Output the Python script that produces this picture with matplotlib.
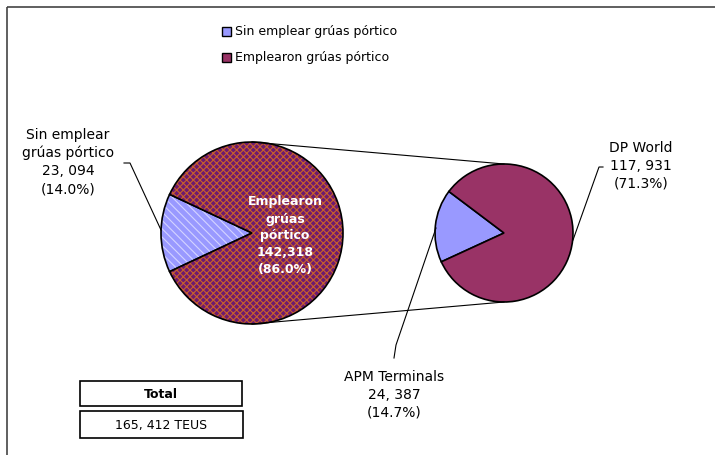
import numpy as np
import matplotlib as mpl
import matplotlib.pyplot as plt
from matplotlib.patches import Rectangle

plt.rcParams['font.family'] = ['DejaVu Sans']
plt.rcParams['hatch.linewidth'] = 0.8

# datos
categorias = ['Sin emplear grúas pórtico', 'Emplearon grúas pórtico']
valores = [23094, 142318]
terminales = ['APM Terminals', 'DP World']
valores_term = [24387, 117931]
total = sum(valores)

fig = plt.figure(figsize=(7.15, 4.55), dpi=100)
ax = fig.add_axes([0, 0, 1, 1])

# marco
ax.add_patch(Rectangle((7, 7), 720, 460, fill=False, ec='#444444', lw=1.2))

# pastel principal (eje y invertido: los ángulos se reflejan)
c1 = (252, 233)
r1 = 91
ang1 = 180 - 360 * valores[0] / total / 2
w1, _ = ax.pie(valores, center=c1, radius=r1, startangle=ang1, counterclock=True,
               colors=['#9999ff', '#6e1a70'], frame=True,
               wedgeprops=dict(edgecolor='black', linewidth=1.2))
w1[0].set_hatch('\\\\\\\\')
w1[1].set_hatch('xxxxx')
w1[0]._hatch_color = mpl.colors.to_rgba('#d4d4ff')
w1[1]._hatch_color = mpl.colors.to_rgba('#c8602a')

# pastel secundario
c2 = (504, 233)
r2 = 69
sub = sum(valores_term)
ang2 = 143
w2, _ = ax.pie(valores_term, center=c2, radius=r2, startangle=360 - ang2 - 360 * valores_term[0] / sub,
               counterclock=True, colors=['#9999ff', '#993366'], frame=True,
               wedgeprops=dict(edgecolor='black', linewidth=1.2))
ax.set_xlim(0, 715)
ax.set_ylim(455, 0)
ax.axis('off')

# líneas de unión
ax.plot([c1[0], c2[0]], [c1[1] - r1, c2[1] - r2], color='black', lw=0.8)
ax.plot([c1[0], c2[0]], [c1[1] + r1, c2[1] + r2], color='black', lw=0.8)

# leyenda
for i, (cat, col) in enumerate(zip(categorias, ['#9999ff', '#993366'])):
    y = 31 + 26 * i
    ax.add_patch(Rectangle((222, y - 4.5), 9, 9, fc=col, ec='black', lw=1))
    ax.text(235, y, cat, fontsize=9, va='center', ha='left')

# etiquetas
fs = 10
ax.text(68, 162, 'Sin emplear\ngrúas pórtico\n%s\n(%.1f%%)' % (f'{valores[0]:,}'.replace(',', ', '), 100 * valores[0] / total),
        ha='center', va='center', fontsize=fs, linespacing=1.35)
ax.plot([124, 130, 161], [163, 163, 230], color='black', lw=0.8)

ax.text(285, 236, 'Emplearon\ngrúas\npórtico\n%s\n(%.1f%%)' % (f'{valores[1]:,}', 100 * valores[1] / total),
        ha='center', va='center', fontsize=9, fontweight='bold', color='white', linespacing=1.4)

ax.text(641, 166, 'DP World\n%s\n(%.1f%%)' % (f'{valores_term[1]:,}'.replace(',', ', '), 100 * valores_term[1] / total),
        ha='center', va='center', fontsize=fs, linespacing=1.35)
ax.plot([603, 599, 573], [167, 167, 240], color='black', lw=0.8)

ax.text(394, 395, 'APM Terminals\n%s\n(%.1f%%)' % (f'{valores_term[0]:,}'.replace(',', ', '), 100 * valores_term[0] / total),
        ha='center', va='center', fontsize=fs, linespacing=1.35)
ax.plot([394, 396, 436], [358, 345, 228], color='black', lw=0.8)

# cuadro total
ax.add_patch(Rectangle((80, 381), 162, 25, fill=False, ec='black', lw=1.2))
ax.add_patch(Rectangle((80, 411), 163, 27, fill=False, ec='black', lw=1.2))
ax.text(161, 394, 'Total', ha='center', va='center', fontsize=9, fontweight='bold')
ax.text(161, 425, '%s TEUS' % f'{total:,}'.replace(',', ', '), ha='center', va='center', fontsize=9)

fig.savefig('out.png', dpi=100)
